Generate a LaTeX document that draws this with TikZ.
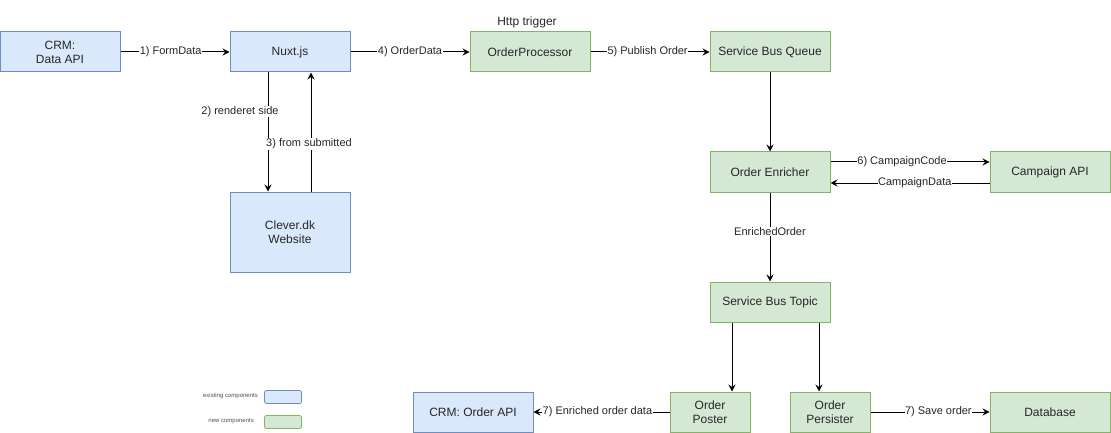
\documentclass[tikz,border=0pt]{standalone}
\usepackage{fontspec}
\setmainfont{Liberation Sans}
\usetikzlibrary{arrows.meta}
\definecolor{oldfill}{HTML}{DAE8FC}
\definecolor{oldline}{HTML}{6C8EBF}
\definecolor{newfill}{HTML}{D5E8D4}
\definecolor{newline}{HTML}{82B366}
\begin{document}
\begin{tikzpicture}[x=1pt,y=-1pt,
  box/.style={draw, line width=1pt, minimum width=120pt, minimum height=40pt, inner sep=0pt, align=center, font=\fontsize{12}{14}\selectfont, text=black!85},
  old/.style={box, fill=oldfill, draw=oldline},
  new/.style={box, fill=newfill, draw=newline},
  conn/.style={line width=1pt, -{Stealth[length=7pt,width=7pt,inset=2.5pt]}},
  lbl/.style={fill=white, inner sep=0.5pt, font=\fontsize{11}{13}\selectfont, text=black!85},
  legtxt/.style={font=\fontsize{6}{7}\selectfont, text=black!70, anchor=east, inner sep=0pt},
  legbox/.style={draw, line width=0.8pt, rounded corners=2pt, minimum width=37pt, minimum height=13pt, inner sep=0pt}]
\useasboundingbox (0,0) rectangle (1111,433);

\node[old] (crm) at (60,52) {CRM:\\Data API};
\node[old] (nuxt) at (290,52) {Nuxt.js};
\node[new] (proc) at (530,52) {OrderProcessor};
\node[font=\fontsize{12}{14}\selectfont, text=black!85] (http) at (527,22) {Http trigger};
\node[new] (sbq) at (770,52) {Service Bus Queue};
\node[new] (enr) at (770,172) {Order Enricher};
\node[new] (camp) at (1050,172) {Campaign API};
\node[old, minimum height=80pt] (clever) at (290,232) {Clever.dk\\Website};
\node[new] (sbt) at (770,302) {Service Bus Topic};
\node[old] (crmo) at (473,412) {CRM: Order API};
\node[new, minimum width=80pt] (poster) at (710,412) {Order\\Poster};
\node[new, minimum width=80pt] (pers) at (830,412) {Order\\Persister};
\node[new] (db) at (1050,412) {Database};

\draw[conn] (crm) -- node[lbl, pos=0.46] {1) FormData} (nuxt);
\draw[conn] (nuxt) -- node[lbl, pos=0.5] {4) OrderData} (proc);
\draw[conn] (proc) -- node[lbl, pos=0.48] {5) Publish Order} (sbq);
\draw[conn] ([xshift=-22pt]nuxt.south) -- node[lbl, pos=0.33, xshift=-28pt] {2) renderet side} ([xshift=-22pt]clever.north);
\draw[conn] ([xshift=21pt]clever.north) -- node[lbl, pos=0.4, xshift=-2pt] {3) from submitted} ([xshift=21pt]nuxt.south);
\draw[conn] (sbq) -- (enr);
\draw[conn] ([yshift=10pt]enr.east) -- node[lbl, pos=0.45] {6) CampaignCode} ([yshift=10pt]camp.west);
\draw[conn] ([yshift=-11pt]camp.west) -- node[lbl, pos=0.47] {CampaignData} ([yshift=-11pt]enr.east);
\draw[conn] (enr) -- node[lbl, pos=0.44] {EnrichedOrder} (sbt);
\draw[conn] ([xshift=-38pt]sbt.south) -- ([xshift=22pt]poster.north);
\draw[conn] ([xshift=49pt]sbt.south) -- ([xshift=-11pt]pers.north);
\draw[conn] (poster) -- node[lbl, pos=0.53] {7) Enriched order data} (crmo);
\draw[conn] (pers) -- node[lbl, pos=0.57] {7) Save order} (db);

\node[legtxt] (lt1) at (258,396) {existing components};
\node[legbox, fill=oldfill, draw=oldline] (lb1) at (283,397) {};
\node[legtxt] (lt2) at (254,421) {new components};
\node[legbox, fill=newfill, draw=newline] (lb2) at (283,422) {};
\end{tikzpicture}
\end{document}
